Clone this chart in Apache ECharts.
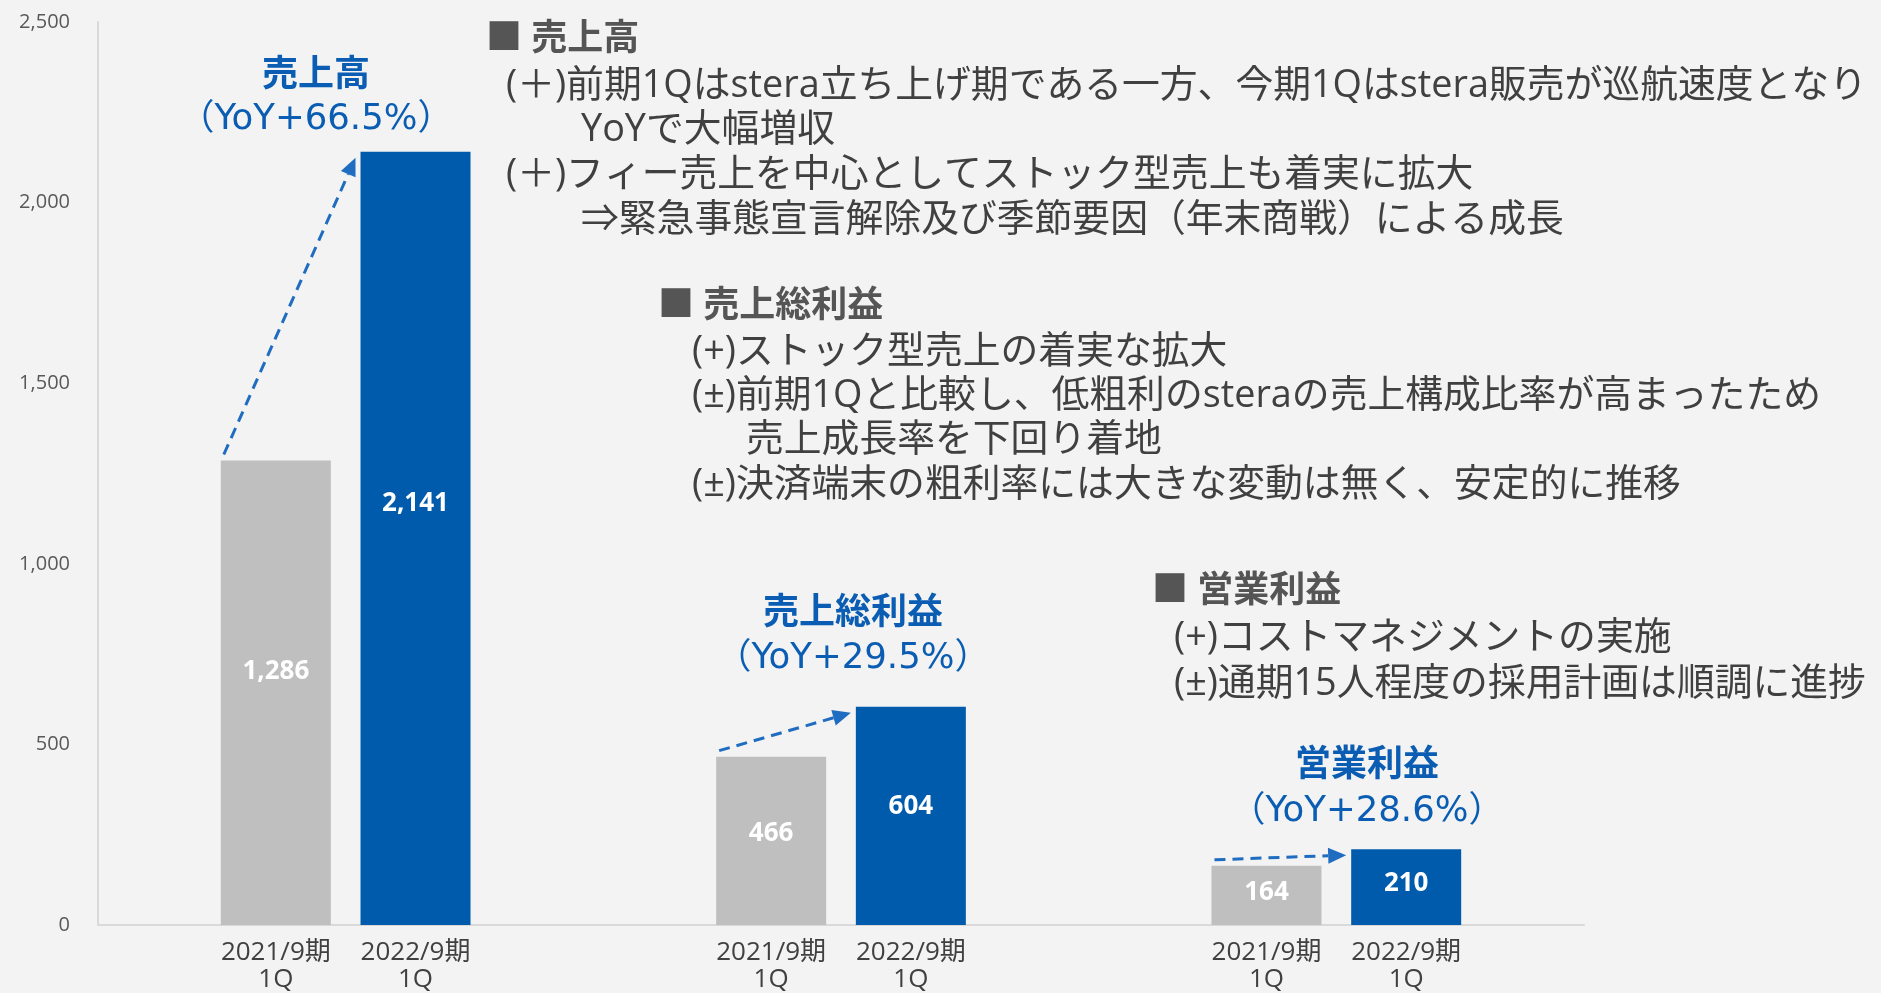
<!DOCTYPE html>
<html>
<head>
<meta charset="utf-8">
<script src="https://cdn.jsdelivr.net/npm/echarts/dist/echarts.min.js"></script>
<style>
  html, body { margin: 0; padding: 0; background: #F2F3F2; }
  #main { width: 1881px; height: 993px; }
</style>
</head>
<body>
<div id="main"></div>
<script>
// chart values
const groups = ["売上高", "売上総利益", "営業利益"];
const periods = ["2021/9期\n1Q", "2022/9期\n1Q"];
const prevValues = [1286, 466, 164];
const currValues = [2141, 604, 210];
const yoyLabels = ["（YoY+66.5%）", "（YoY+29.5%）", "（YoY+28.6%）"];

// comment blocks
const salesNotes = [
    "(＋)前期1Qはstera立ち上げ期である一方、今期1Qはstera販売が巡航速度となり",
    "YoYで大幅増収",
    "(＋)フィー売上を中心としてストック型売上も着実に拡大",
    "⇒緊急事態宣言解除及び季節要因（年末商戦）による成長",
];
const grossNotes = [
    "(+)ストック型売上の着実な拡大",
    "(±)前期1Qと比較し、低粗利のsteraの売上構成比率が高まったため",
    "売上成長率を下回り着地",
    "(±)決済端末の粗利率には大きな変動は無く、安定的に推移",
];
const opNotes = [
    "(+)コストマネジメントの実施",
    "(±)通期15人程度の採用計画は順調に進捗",
];

const FONT = "'Open Sans', 'Noto Sans CJK JP', sans-serif";
const WIDE_FONT = "'DejaVu Sans', 'Noto Sans CJK JP', sans-serif";
const GRAY_TEXT = "#404040";
const BLUE = "#005BAC";
const BLUE_TEXT = "#0A5DB2";
const BAR_W = 110;
const BAR_GAP = 0.27;

function txt(text, x, y, opt) {
    opt = opt || {};
    return {
        type: "text",
        x: x,
        y: y,
        z: 20,
        style: {
            text: text,
            fill: opt.fill || GRAY_TEXT,
            fontSize: opt.size || 36,
            fontWeight: opt.bold ? "bold" : "normal",
            fontFamily: opt.font || FONT,
            textAlign: opt.align || "left",
            textVerticalAlign: "middle",
        },
    };
}

const graphics = [];
// blue headlines above each group
const headPos = [[316, 76, 120], [853, 614, 659], [1367, 766, 812]];
groups.forEach((g, i) => {
    const p = headPos[i];
    graphics.push(txt(g, p[0], p[1], { fill: BLUE_TEXT, bold: true, size: 36, align: "center" }));
    graphics.push(txt(yoyLabels[i], p[0], p[2], { fill: BLUE_TEXT, size: 35.5, align: "center", font: WIDE_FONT }));
});
// comment blocks
graphics.push(txt("■ " + groups[0], 486, 40, { bold: true, fill: "#555555" }));
[[506, 86], [581, 130], [506, 175], [581, 220]].forEach((p, i) => graphics.push(txt(salesNotes[i], p[0], p[1], { size: 37.8 })));
graphics.push(txt("■ " + groups[1], 658, 307, { bold: true, fill: "#555555" }));
[[692, 352], [692, 396], [746, 440], [692, 485]].forEach((p, i) => graphics.push(txt(grossNotes[i], p[0], p[1], { size: 37.8 })));
graphics.push(txt("■ " + groups[2], 1152, 592, { bold: true, fill: "#555555" }));
[[1174, 638], [1174, 684]].forEach((p, i) => graphics.push(txt(opNotes[i], p[0], p[1], { size: 37.8 })));

function renderArrow(params, api) {
    const i = api.value(0);
    const c = api.coord([i, 0])[0];
    const half = BAR_W + (BAR_W * BAR_GAP) / 2;
    const x0 = c - half + 3;
    const y0 = api.coord([i, api.value(1)])[1] - 6;
    const x1 = c - half + BAR_W + BAR_W * BAR_GAP - 5;
    const y1 = api.coord([i, api.value(2)])[1] + 6;
    const a = Math.atan2(y1 - y0, x1 - x0);
    const head = 18, w = 8;
    const bx = x1 - head * Math.cos(a);
    const by = y1 - head * Math.sin(a);
    return {
        type: "group",
        children: [
            {
                type: "line",
                shape: { x1: x0, y1: y0, x2: bx, y2: by },
                style: { stroke: "#1F6CC0", lineWidth: 3, lineDash: [11, 7] },
            },
            {
                type: "polygon",
                shape: {
                    points: [
                        [x1, y1],
                        [bx + w * Math.sin(a), by - w * Math.cos(a)],
                        [bx - w * Math.sin(a), by + w * Math.cos(a)],
                    ],
                },
                style: { fill: "#1F6CC0" },
            },
        ],
    };
}

const valueLabel = {
    show: true,
    position: ["50%", "45.5%"],
    align: "center",
    verticalAlign: "middle",
    color: "#FFFFFF",
    fontSize: 26,
    fontWeight: "bold",
    fontFamily: FONT,
    formatter: (p) => p.value.toLocaleString("en-US"),
};

function periodLabel(text) {
    return {
        show: true,
        position: "bottom",
        distance: 14,
        color: GRAY_TEXT,
        fontSize: 26,
        lineHeight: 27,
        fontFamily: FONT,
        formatter: text,
    };
}

const chart = echarts.init(document.getElementById("main"));
chart.setOption({
    backgroundColor: "#F2F3F2",
    animation: false,
    grid: { left: 98, right: 297, top: 22, bottom: 68 },
    xAxis: [
        {
            type: "category",
            data: groups,
            axisLine: { lineStyle: { color: "#D9D9D9", width: 2 } },
            axisTick: { show: false },
            axisLabel: { show: false },
        },
        { type: "category", data: groups, show: false },
    ],
    yAxis: {
        type: "value",
        min: 0,
        max: 2500,
        interval: 500,
        axisLine: { show: true, lineStyle: { color: "#D9D9D9", width: 2 } },
        axisTick: { show: false },
        splitLine: { show: false },
        axisLabel: {
            color: "#595959",
            fontSize: 20,
            fontFamily: FONT,
            margin: 28,
            formatter: (v) => v.toLocaleString("en-US"),
        },
    },
    graphic: graphics,
    series: [
        {
            name: "2021/9期1Q",
            type: "bar",
            data: prevValues,
            barWidth: BAR_W,
            barGap: BAR_GAP * 100 + "%",
            itemStyle: { color: "#BFBFBF" },
            label: valueLabel,
        },
        {
            name: "2022/9期1Q",
            type: "bar",
            data: currValues,
            barWidth: BAR_W,
            barGap: BAR_GAP * 100 + "%",
            itemStyle: { color: BLUE },
            label: valueLabel,
        },
        {
            type: "bar",
            xAxisIndex: 1,
            data: prevValues,
            barWidth: BAR_W,
            barGap: BAR_GAP * 100 + "%",
            itemStyle: { color: "rgba(0,0,0,0)" },
            label: periodLabel(periods[0]),
            silent: true,
        },
        {
            type: "bar",
            xAxisIndex: 1,
            data: currValues,
            barWidth: BAR_W,
            barGap: BAR_GAP * 100 + "%",
            itemStyle: { color: "rgba(0,0,0,0)" },
            label: periodLabel(periods[1]),
            silent: true,
        },
        {
            type: "custom",
            data: groups.map((g, i) => [i, prevValues[i], currValues[i]]),
            encode: { x: 0, y: 2 },
            renderItem: renderArrow,
            silent: true,
            z: 10,
        },
    ],
});
</script>
</body>
</html>
